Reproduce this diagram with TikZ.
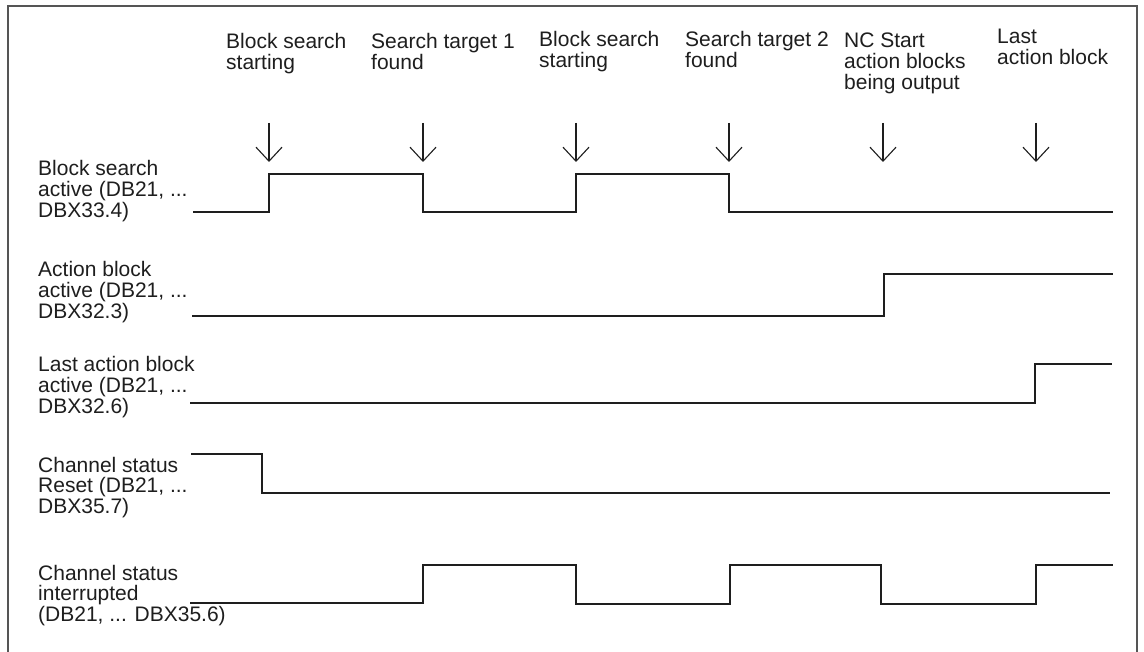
\documentclass[tikz,border=0pt]{standalone}
\usepackage{fontspec}
\setmainfont{Liberation Sans}
\usetikzlibrary{arrows.meta}
\definecolor{ink}{HTML}{1E1E1E}
\definecolor{framecol}{HTML}{555555}
\newcommand{\lbl}[1]{\parbox[t]{220pt}{\raggedright\fontsize{21}{20.6}\selectfont #1}}
\tikzset{
  lab/.style={anchor=base west, inner sep=0pt, text=ink},
  wave/.style={draw=ink, line width=1.2pt, line join=miter},
  evarrow/.style={draw=ink, line width=1.1pt, -{Straight Barb[length=14pt,width=26pt,line width=1.1pt]}},
  framebox/.style={draw=framecol, line width=1.5pt}
}
\begin{document}
\begin{tikzpicture}[x=1pt,y=-1pt]
\useasboundingbox (0,0) rectangle (1144,652);
\fill[white] (0,0) rectangle (1144,652);
% frame (open at bottom)
\draw[framebox] (8,652) -- (8,6) -- (1137,6) -- (1137,652);

% top event labels
\node[lab] (t1) at (226,49) {\lbl{Block search\\starting}};
\node[lab] (t2) at (371,49) {\lbl{Search target 1\\found}};
\node[lab] (t3) at (539,47) {\lbl{Block search\\starting}};
\node[lab] (t4) at (685,47) {\lbl{Search target 2\\found}};
\node[lab] (t5) at (844,48) {\lbl{NC Start\\action blocks\\being output}};
\node[lab] (t6) at (997,44) {\lbl{Last\\action block}};

% event arrows
\foreach \i/\x in {1/269,2/423,3/576,4/729,5/883,6/1036}{
  \coordinate (a\i) at (\x,123);
  \coordinate (b\i) at (\x,162);
  \draw[evarrow] (a\i) -- (b\i);
}

% signal labels
\node[lab] (s1) at (38,176) {\lbl{Block search\\active (DB21, ...\\DBX33.4)}};
\node[lab] (s2) at (38,277) {\lbl{Action block\\active (DB21, ...\\DBX32.3)}};
\node[lab] (s3) at (38,372) {\lbl{Last action block\\active (DB21, ...\\DBX32.6)}};
\node[lab] (s4) at (38,472) {\lbl{Channel status\\Reset (DB21, ...\\DBX35.7)}};
\node[lab] (s5) at (38,580) {\lbl{Channel status\\interrupted\\(DB21, ... DBX35.6)}};

% waveforms
\draw[wave] (193,212) -- (269,212) -- (269,174) -- (423,174) -- (423,212) -- (576,212) -- (576,174) -- (729,174) -- (729,212) -- (1113,212);
\draw[wave] (192,316) -- (884,316) -- (884,274) -- (1113,274);
\draw[wave] (190,403) -- (1035,403) -- (1035,364) -- (1112,364);
\draw[wave] (191,454) -- (262,454) -- (262,493) -- (1110,493);
\draw[wave] (190,603) -- (423,603) -- (423,565) -- (576,565) -- (576,604) -- (730,604) -- (730,565) -- (881,565) -- (881,604) -- (1036,604) -- (1036,565) -- (1113,565);
\end{tikzpicture}
\end{document}
